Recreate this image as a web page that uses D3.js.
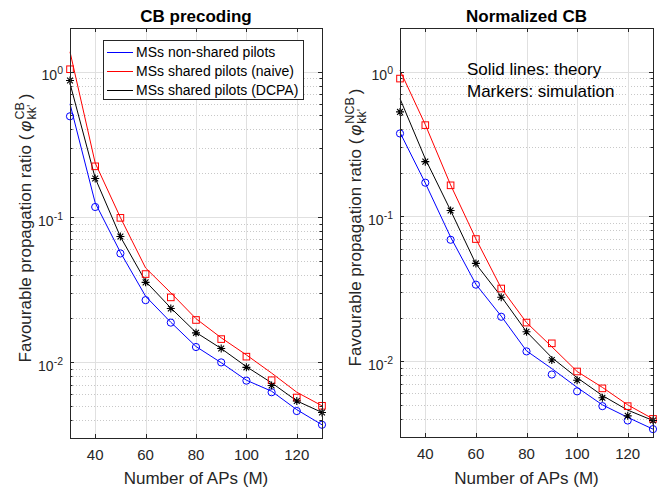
<!DOCTYPE html>
<html><head><meta charset="utf-8">
<script src="https://cdn.jsdelivr.net/npm/d3@7"></script>
<style>body{margin:0;background:#fff}svg{display:block;font-family:"Liberation Sans",Arial,Helvetica,sans-serif}</style>
</head><body>
<svg id="chart" width="657" height="488"></svg>
<script>
// ---------- data ----------
const apCounts = [30, 40, 50, 60, 70, 80, 90, 100, 110, 120, 130];
const xTicks = [40, 60, 80, 100, 120];
const yTickExps = [0, -1, -2];
const seriesNames = ["MSs non-shared pilots", "MSs shared pilots (naive)", "MSs shared pilots (DCPA)"];
const seriesColors = ["#0000ff", "#ff0000", "#000000"];
const seriesMarkers = ["circle", "square", "star"];
const panelTitles = ["CB precoding", "Normalized CB"];
const ySuper = ["CB", "NCB"];
const xLabel = "Number of APs (M)";
const annotation = ["Solid lines: theory", "Markers: simulation"];

// CB precoding (left)
const cbTheoryNonShared = [0.60, 0.125, 0.057, 0.0284, 0.0188, 0.0128, 0.0099, 0.0075, 0.0063, 0.0047, 0.0037];
const cbSimNonShared    = [0.493, 0.117, 0.056, 0.0267, 0.0187, 0.0127, 0.00995, 0.00745, 0.0062, 0.0046, 0.0037];
const cbTheoryNaive     = [1.37, 0.235, 0.099, 0.0445, 0.030, 0.0199, 0.0147, 0.0112, 0.0084, 0.0062, 0.0050];
const cbSimNaive        = [1.04, 0.223, 0.0985, 0.0404, 0.0279, 0.0195, 0.0144, 0.0109, 0.0075, 0.0057, 0.0050];
const cbTheoryDCPA      = [0.83, 0.185, 0.073, 0.036, 0.0236, 0.0160, 0.0124, 0.0093, 0.0072, 0.0054, 0.0045];
const cbSimDCPA         = [0.87, 0.184, 0.0733, 0.0354, 0.0234, 0.0159, 0.0124, 0.0092, 0.0069, 0.0054, 0.0045];

// Normalized CB (right)
const ncbTheoryNonShared = [0.38, 0.17, 0.072, 0.034, 0.0205, 0.0118, 0.0089, 0.0066, 0.0050, 0.0041, 0.0034];
const ncbSimNonShared    = [0.374, 0.171, 0.069, 0.0338, 0.0203, 0.0117, 0.0081, 0.0062, 0.0049, 0.0039, 0.0034];
const ncbTheoryNaive     = [1.02, 0.43, 0.165, 0.070, 0.032, 0.0185, 0.0126, 0.0085, 0.0066, 0.0050, 0.0040];
const ncbSimNaive        = [0.895, 0.427, 0.164, 0.0698, 0.0318, 0.0185, 0.0133, 0.0085, 0.0065, 0.0049, 0.0040];
const ncbTheoryDCPA      = [0.65, 0.25, 0.11, 0.047, 0.028, 0.0160, 0.0106, 0.0077, 0.0058, 0.0046, 0.0039];
const ncbSimDCPA         = [0.527, 0.239, 0.110, 0.0474, 0.0277, 0.0160, 0.0102, 0.0074, 0.0056, 0.0042, 0.0039];

const panelsData = [
  {theory: [cbTheoryNonShared, cbTheoryNaive, cbTheoryDCPA], sim: [cbSimNonShared, cbSimNaive, cbSimDCPA]},
  {theory: [ncbTheoryNonShared, ncbTheoryNaive, ncbTheoryDCPA], sim: [ncbSimNonShared, ncbSimNaive, ncbSimDCPA]}
];

// ---------- drawing ----------
const svg = d3.select("#chart");
const axisCol = "#262626";
const boxes = [{x0: 70, x1: 322, y0: 28, y1: 438}, {x0: 400, x1: 653, y0: 28, y1: 437}];

boxes.forEach((b, pi) => {
  const x = d3.scaleLinear().domain([30, 130]).range([b.x0, b.x1]);
  const y = d3.scaleLog().domain([0.003, 2]).range([b.y1, b.y0]);
  const g = svg.append("g");

  // minor grid (dotted)
  const minors = [];
  for (let e = -3; e <= 0; e++) for (let m = 2; m <= 9; m++) {
    const v = m * Math.pow(10, e);
    if (v >= 0.003 && v <= 2) minors.push(v);
  }
  g.selectAll(".mg").data(minors).enter().append("line")
    .attr("x1", b.x0).attr("x2", b.x1)
    .attr("y1", d => Math.round(y(d)) + 0.5).attr("y2", d => Math.round(y(d)) + 0.5)
    .attr("stroke", "#c8c8c8").attr("stroke-width", 1).attr("stroke-dasharray", "1,2");
  // major grid
  const majorsY = yTickExps.map(e => Math.pow(10, e));
  g.selectAll(".gy").data(majorsY).enter().append("line")
    .attr("x1", b.x0).attr("x2", b.x1)
    .attr("y1", d => Math.round(y(d)) + 0.5).attr("y2", d => Math.round(y(d)) + 0.5)
    .attr("stroke", "#e0e0e0").attr("stroke-width", 1);
  g.selectAll(".gx").data(xTicks).enter().append("line")
    .attr("x1", d => Math.round(x(d)) + 0.5).attr("x2", d => Math.round(x(d)) + 0.5)
    .attr("y1", b.y0).attr("y2", b.y1)
    .attr("stroke", "#e0e0e0").attr("stroke-width", 1);

  // theory lines
  const line = d3.line().x((d, i) => x(apCounts[i])).y(d => y(d));
  panelsData[pi].theory.forEach((s, si) => {
    g.append("path").datum(s).attr("d", line)
      .attr("fill", "none").attr("stroke", seriesColors[si]).attr("stroke-width", 1);
  });

  // markers
  panelsData[pi].sim.forEach((s, si) => {
    const col = seriesColors[si];
    const mk = seriesMarkers[si];
    s.forEach((v, i) => {
      const px = x(apCounts[i]), py = y(v);
      if (mk === "circle") {
        g.append("circle").attr("cx", px).attr("cy", py).attr("r", 3.6)
          .attr("fill", "none").attr("stroke", col).attr("stroke-width", 1);
      } else if (mk === "square") {
        g.append("rect").attr("x", px - 3.3).attr("y", py - 3.3).attr("width", 6.6).attr("height", 6.6)
          .attr("fill", "none").attr("stroke", col).attr("stroke-width", 1);
      } else {
        const r = 4, d2 = 2.9;
        const p = `M${px - r},${py}L${px + r},${py}M${px},${py - r}L${px},${py + r}` +
                  `M${px - d2},${py - d2}L${px + d2},${py + d2}M${px - d2},${py + d2}L${px + d2},${py - d2}`;
        g.append("path").attr("d", p).attr("stroke", col).attr("stroke-width", 1.1).attr("fill", "none");
      }
    });
  });

  // box
  g.append("rect").attr("x", b.x0 + 0.5).attr("y", b.y0 + 0.5)
    .attr("width", b.x1 - b.x0).attr("height", b.y1 - b.y0)
    .attr("fill", "none").attr("stroke", axisCol).attr("stroke-width", 1);

  // ticks (inward, both sides)
  const tk = [];
  xTicks.forEach(t => {
    const px = Math.round(x(t)) + 0.5;
    tk.push(`M${px},${b.y1}V${b.y1 - 4}M${px},${b.y0}V${b.y0 + 4}`);
  });
  majorsY.forEach(t => {
    const py = Math.round(y(t)) + 0.5;
    tk.push(`M${b.x0},${py}H${b.x0 + 4}M${b.x1},${py}H${b.x1 - 4}`);
  });
  minors.forEach(t => {
    const py = Math.round(y(t)) + 0.5;
    tk.push(`M${b.x0},${py}H${b.x0 + 2.5}M${b.x1},${py}H${b.x1 - 2.5}`);
  });
  g.append("path").attr("d", tk.join("")).attr("stroke", axisCol).attr("stroke-width", 1).attr("fill", "none");

  // x tick labels
  g.selectAll(".xl").data(xTicks).enter().append("text")
    .attr("x", d => x(d)).attr("y", b.y1 + 22).attr("text-anchor", "middle")
    .attr("fill", axisCol).style("font-size", "15px").text(d => d);
  // y tick labels
  yTickExps.forEach(e => {
    const t = g.append("text").attr("x", b.x0 - 7).attr("y", y(Math.pow(10, e)) + 8.7)
      .attr("text-anchor", "end").attr("fill", axisCol).style("font-size", "14px");
    t.append("tspan").text("10");
    t.append("tspan").attr("dy", -6).style("font-size", "10.5px").text(String(e));
  });

  // x label
  g.append("text").attr("x", (b.x0 + b.x1) / 2).attr("y", 484).attr("text-anchor", "middle")
    .attr("fill", axisCol).style("font-size", "17px").text(xLabel);

  // title
  g.append("text").attr("x", (b.x0 + b.x1) / 2).attr("y", 21.5).attr("text-anchor", "middle")
    .attr("fill", "#000").style("font-size", "17px").style("font-weight", "bold").text(panelTitles[pi]);

  // y label (rotated)
  const cy = (b.y0 + b.y1) / 2 - 5;
  const yl = g.append("text").attr("transform", `translate(${b.x0 - 39},${cy}) rotate(-90)`)
    .attr("text-anchor", "middle").attr("fill", axisCol).style("font-size", "17px");
  yl.append("tspan").text("Favourable propagation ratio (");
  yl.append("tspan").attr("dx", 3).style("font-style", "italic").text("\u03C6");
  const sup = yl.append("tspan").attr("dy", -7).attr("dx", 1).style("font-size", "12.5px").text(ySuper[pi]);
  const supW = sup.node().getComputedTextLength();
  const sub = yl.append("tspan").attr("dy", 12).style("font-size", "12.5px").text("kk'");
  const subW = sub.node().getComputedTextLength();
  sub.attr("dx", -supW);
  yl.append("tspan").attr("dy", -5).attr("dx", Math.max(0, supW - subW) + 3).text(")");
});

// legend (left panel)
const lg = svg.append("g");
lg.append("rect").attr("x", 103.5).attr("y", 40.5).attr("width", 200).attr("height", 59)
  .attr("fill", "#fff").attr("stroke", axisCol).attr("stroke-width", 1);
seriesNames.forEach((n, i) => {
  const cyl = 52 + i * 19;
  lg.append("line").attr("x1", 107).attr("x2", 133).attr("y1", cyl + 0.5).attr("y2", cyl + 0.5)
    .attr("stroke", seriesColors[i]).attr("stroke-width", 1);
  lg.append("text").attr("x", 136).attr("y", cyl + 5).attr("fill", "#000")
    .style("font-size", "14px").text(n);
});

// annotation (right panel)
annotation.forEach((t, i) => {
  svg.append("text").attr("x", 467).attr("y", 75 + i * 22).attr("fill", "#000")
    .style("font-size", "17px").text(t);
});
</script>
</body></html>
